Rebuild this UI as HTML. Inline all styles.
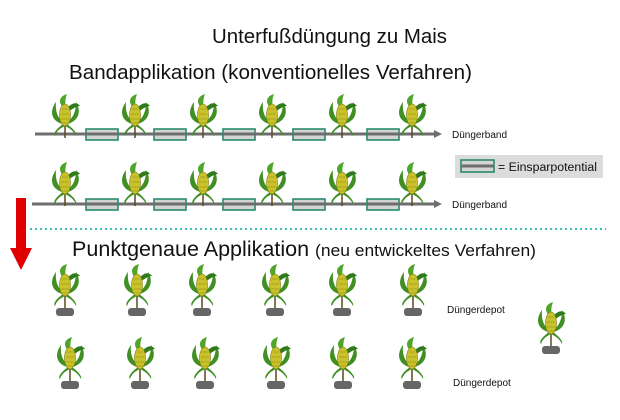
<!DOCTYPE html>
<html><head><meta charset="utf-8"><style>
body{margin:0;background:#fff;}
svg{display:block;font-family:"Liberation Sans",Arial,sans-serif;}
</style></head><body>
<svg width="620" height="420" viewBox="0 0 620 420" xmlns="http://www.w3.org/2000/svg">
<defs>
<g id="corn">
<path d="M0,34 L0,22" stroke="#5a4a1a" stroke-width="1.5"/>
<path d="M-3,20 C-15,16 -15,6 -9,-2 C-10,8 -7,14 -2,18 Z" fill="#3f8f22"/>
<path d="M3,20 C15,16 16,6 11,-2 C11,8 8,14 2,18 Z" fill="#3f8f22"/>
<path d="M-2,4 C-8,-4 -4,-8 2,-10 C0,-5 0,0 1,4 Z" fill="#4fa52a"/>
<path d="M2,4 C8,-2 12,-2 15,2 C11,2 6,6 3,8 Z" fill="#2f7a1a"/>
<path d="M-2,20 C-10,26 -12,30 -10,32 C-8,26 -4,24 0,22 Z" fill="#3f8f22"/>
<path d="M2,20 C10,26 12,30 11,32 C8,26 4,24 0,22 Z" fill="#3f8f22"/>
<ellipse cx="0" cy="11" rx="5.5" ry="11" fill="#c9c22a" stroke="#7a7a10" stroke-width="0.6"/>
<path d="M-3,5 h6 M-4,10 h8 M-4,15 h8 M-3,19 h6" stroke="#8a8a18" stroke-width="0.6"/>
</g>
<g id="box"><rect x="0" y="-5" width="32" height="11" fill="#d4d4d4" stroke="#2a8a6a" stroke-width="1.6"/><line x1="0" y1="0" x2="32" y2="0" stroke="#6e6e6e" stroke-width="3"/></g>
<rect id="dep" x="-9" y="0" width="18" height="8" rx="3" fill="#666"/>
</defs>

<text x="212" y="43" font-size="20" textLength="235" lengthAdjust="spacingAndGlyphs" fill="#111">Unterfußdüngung zu Mais</text>
<text x="69" y="79" font-size="20" textLength="403" lengthAdjust="spacingAndGlyphs" fill="#111">Bandapplikation (konventionelles Verfahren)</text>

<!-- row1 -->
<line x1="35" y1="134" x2="436" y2="134" stroke="#6e6e6e" stroke-width="3"/>
<path d="M434,130 L442,134 L434,138 Z" fill="#6e6e6e"/>
<g transform="translate(65,104)"><use href="#corn"/></g>
<g transform="translate(135,104)"><use href="#corn"/></g>
<g transform="translate(203,104)"><use href="#corn"/></g>
<g transform="translate(272,104)"><use href="#corn"/></g>
<g transform="translate(342,104)"><use href="#corn"/></g>
<g transform="translate(412,104)"><use href="#corn"/></g>
<use href="#box" x="86" y="134"/><use href="#box" x="154" y="134"/><use href="#box" x="223" y="134"/><use href="#box" x="293" y="134"/><use href="#box" x="367" y="134"/>
<text x="452" y="138" font-size="10" fill="#111">Düngerband</text>

<!-- legend -->
<rect x="455" y="155" width="148" height="23" fill="#dcdcdc"/>
<rect x="461" y="160" width="33" height="12" fill="#d4d4d4" stroke="#2a8a6a" stroke-width="1.6"/>
<line x1="461" y1="166" x2="494" y2="166" stroke="#6e6e6e" stroke-width="3"/>
<text x="498" y="171" font-size="11.5" textLength="99" lengthAdjust="spacingAndGlyphs" fill="#111">= Einsparpotential</text>

<!-- row2 -->
<line x1="32" y1="204" x2="436" y2="204" stroke="#6e6e6e" stroke-width="3"/>
<path d="M434,200 L442,204 L434,208 Z" fill="#6e6e6e"/>
<g transform="translate(65,172)"><use href="#corn"/></g>
<g transform="translate(135,172)"><use href="#corn"/></g>
<g transform="translate(203,172)"><use href="#corn"/></g>
<g transform="translate(272,172)"><use href="#corn"/></g>
<g transform="translate(342,172)"><use href="#corn"/></g>
<g transform="translate(412,172)"><use href="#corn"/></g>
<use href="#box" x="86" y="204"/><use href="#box" x="154" y="204"/><use href="#box" x="223" y="204"/><use href="#box" x="293" y="204"/><use href="#box" x="367" y="204"/>
<text x="452" y="208" font-size="10" fill="#111">Düngerband</text>

<line x1="30" y1="229" x2="606" y2="229" stroke="#3cc0b0" stroke-width="2" stroke-dasharray="2,3"/>

<!-- red arrow -->
<rect x="16" y="198" width="10" height="52" fill="#e00000"/>
<path d="M10,248 L32,248 L21,270 Z" fill="#e00000"/>

<text x="72" y="256" font-size="21" textLength="464" lengthAdjust="spacingAndGlyphs" fill="#111">Punktgenaue Applikation <tspan font-size="17">(neu entwickeltes Verfahren)</tspan></text>

<!-- row3 -->
<g transform="translate(65,274)"><use href="#corn"/></g><use href="#dep" x="65" y="308"/>
<g transform="translate(137,274)"><use href="#corn"/></g><use href="#dep" x="137" y="308"/>
<g transform="translate(202,274)"><use href="#corn"/></g><use href="#dep" x="202" y="308"/>
<g transform="translate(275,274)"><use href="#corn"/></g><use href="#dep" x="275" y="308"/>
<g transform="translate(342,274)"><use href="#corn"/></g><use href="#dep" x="342" y="308"/>
<g transform="translate(413,274)"><use href="#corn"/></g><use href="#dep" x="413" y="308"/>
<text x="447" y="313" font-size="10" fill="#111">Düngerdepot</text>

<g transform="translate(551,312)"><use href="#corn"/></g><use href="#dep" x="551" y="346"/>

<!-- row4 -->
<g transform="translate(70,347)"><use href="#corn"/></g><use href="#dep" x="70" y="381"/>
<g transform="translate(140,347)"><use href="#corn"/></g><use href="#dep" x="140" y="381"/>
<g transform="translate(205,347)"><use href="#corn"/></g><use href="#dep" x="205" y="381"/>
<g transform="translate(276,347)"><use href="#corn"/></g><use href="#dep" x="276" y="381"/>
<g transform="translate(343,347)"><use href="#corn"/></g><use href="#dep" x="343" y="381"/>
<g transform="translate(412,347)"><use href="#corn"/></g><use href="#dep" x="412" y="381"/>
<text x="453" y="386" font-size="10" fill="#111">Düngerdepot</text>
</svg>
</body></html>
